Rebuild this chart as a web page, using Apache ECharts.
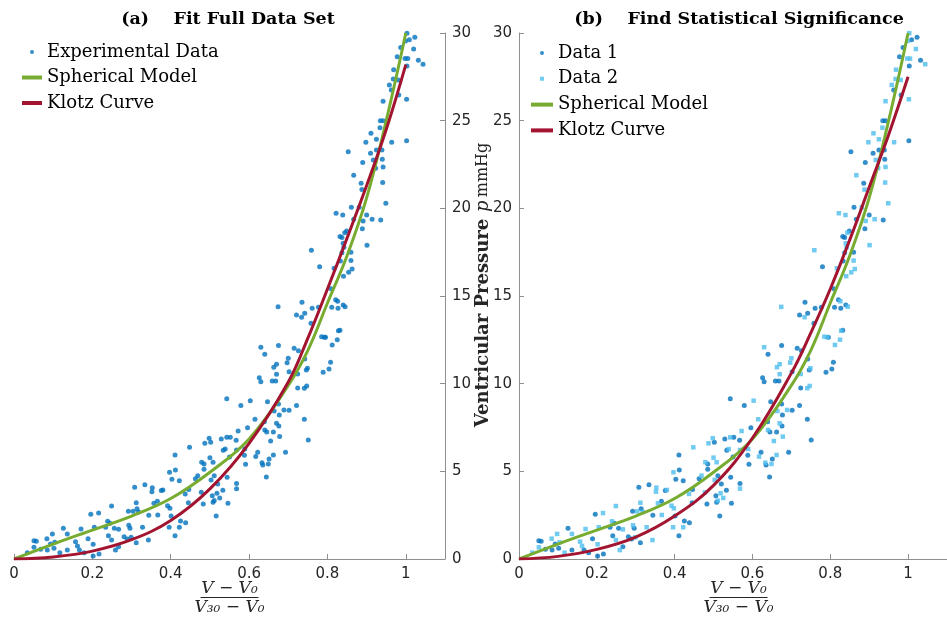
<!DOCTYPE html>
<html><head><meta charset="utf-8">
<script src="https://cdn.jsdelivr.net/npm/echarts@6/dist/echarts.min.js"></script>
<style>html,body{margin:0;padding:0;background:#fff}#c{width:947px;height:624px}</style>
</head><body><div id="c"></div>
<script>
// ---- tick labels ----
const xTicks = [0, 0.2, 0.4, 0.6, 0.8, 1];
const yTicks = [0, 5, 10, 15, 20, 25, 30];

// ---- experimental points: normalized volume, pressure, group (1 = Data 1, 2 = Data 2) ----
const ptX = [
0.411,0.397,0.412,0.403,0.422,0.334,0.308,0.353,0.352,0.376,0.380,0.312,0.357,0.366,0.249,0.292,0.304,0.314,0.318,0.344,
0.367,0.392,0.398,0.401,0.396,0.425,0.422,0.411,0.196,0.216,0.205,0.171,0.126,0.136,0.098,0.084,0.051,0.057,0.051,0.093,
0.104,0.085,0.102,0.117,0.136,0.157,0.162,0.167,0.179,0.189,0.202,0.202,0.217,0.234,0.239,0.245,0.241,0.249,0.256,0.267,
0.281,0.289,0.299,0.293,0.296,0.312,0.328,0.343,0.267,0.259,0.034,0.068,
0.630,0.675,0.640,0.715,0.726,0.700,0.697,0.670,0.663,0.742,0.749,0.746,0.702,0.670,0.626,0.630,0.659,0.668,0.724,0.724,
0.741,0.747,0.543,0.579,0.603,0.647,0.675,0.689,0.702,0.721,0.664,0.677,0.615,0.639,0.670,0.676,0.741,0.596,0.572,0.640,
0.662,0.645,0.655,0.678,0.751,0.529,0.543,0.552,0.567,0.539,0.534,0.498,0.487,0.502,0.448,0.500,0.479,0.485,0.463,0.469,
0.485,0.508,0.511,0.503,0.544,0.520,0.550,0.568,0.588,0.589,0.591,0.617,0.622,0.633,0.635,0.649,0.651,0.644,0.662,0.693,
0.568,0.568,0.533,0.518,0.506,0.525,0.511,0.508,0.546,0.483,0.478,0.446,0.516,0.437,0.445,0.438,
0.861,0.822,0.839,0.881,0.900,0.891,0.914,0.936,0.949,0.867,0.889,0.849,0.844,0.832,0.837,0.840,0.842,0.901,0.759,0.837,
0.860,0.833,0.860,0.780,0.817,0.863,0.854,0.841,0.809,0.821,0.826,0.735,0.674,0.761,0.777,0.811,0.827,0.840,0.845,0.721,
0.734,0.742,0.758,0.785,0.792,0.795,0.828,0.832,0.825,0.812,0.808,0.804,0.789,
1.003,1.023,1.009,0.999,1.020,0.987,0.978,0.998,1.005,1.003,1.032,1.044,0.969,0.968,0.981,0.958,0.963,0.982,1.002,0.942,
0.935,0.942,0.934,0.911,0.925,0.898,0.964,1.002,0.853,0.925,0.910,0.939,0.890,0.917,0.940,0.923,0.942,0.867,0.886,0.941,
0.888
];
const ptY = [
5.93,4.95,5.08,4.55,4.47,4.24,4.09,4.07,3.84,3.90,3.94,3.21,3.18,3.29,3.02,2.72,2.72,2.87,2.68,2.49,
2.51,3.04,2.89,2.45,1.81,2.17,1.81,1.33,2.55,2.62,1.81,1.71,1.75,1.43,1.43,1.16,1.04,1.01,0.67,0.86,
0.95,0.51,0.61,0.36,0.51,0.99,0.74,0.51,0.36,1.16,0.84,0.17,0.29,1.81,2.15,2.04,1.33,1.08,1.75,1.69,
1.27,1.14,1.24,1.92,1.75,0.93,1.81,1.08,0.70,0.51,0.36,0.55,
12.08,12.17,11.68,12.02,11.88,11.45,11.20,11.11,10.94,11.41,10.88,10.78,10.68,10.54,10.34,10.11,10.15,10.15,10.55,9.75,
9.74,9.87,9.14,8.75,9.03,8.97,8.84,8.50,8.48,8.75,8.44,8.21,7.97,7.83,7.74,7.59,7.97,7.49,7.30,7.36,
7.24,7.24,6.73,6.98,6.79,6.85,6.94,6.94,6.77,6.27,6.20,6.89,6.60,6.66,6.37,5.78,5.52,5.42,4.58,4.75,
5.12,5.52,4.75,4.51,4.66,4.28,5.82,6.22,5.92,6.27,5.40,5.84,6.09,5.49,5.36,5.42,5.70,4.68,5.93,6.09,
4.30,4.01,3.92,3.75,3.61,3.48,3.33,3.23,3.18,3.14,3.80,3.97,2.45,3.71,3.21,2.07,
20.06,19.72,19.62,20.06,19.62,19.28,19.38,19.34,20.29,19.38,18.84,18.71,18.61,18.39,18.33,18.01,17.78,17.90,17.61,17.47,
17.50,17.00,17.02,16.67,16.58,16.54,16.35,16.13,15.42,14.79,14.70,14.64,14.38,14.30,14.36,14.36,14.30,14.49,14.39,13.92,
13.79,14.02,13.45,12.68,12.65,12.65,13.02,13.05,12.51,12.21,11.22,10.84,10.65,
29.99,29.76,29.61,29.55,29.09,29.17,28.65,28.54,28.54,28.12,28.45,28.22,27.91,27.38,27.32,27.04,26.75,26.47,26.22,26.11,
25.00,25.00,24.60,24.28,23.94,23.77,23.77,23.86,23.23,23.33,23.14,23.33,22.61,22.76,22.80,22.29,22.36,21.89,21.43,21.47,
21.07
];
const ptGroup = [
1,2,1,1,1,1,1,2,2,1,2,2,2,1,2,1,2,1,2,1,
2,2,2,1,2,1,2,1,1,2,2,2,1,2,2,2,1,1,2,1,
2,1,1,2,1,2,2,1,1,1,2,1,1,1,2,1,1,2,1,2,
1,1,2,2,1,1,2,2,1,2,2,1,
2,1,1,1,1,2,2,2,2,1,2,1,1,2,1,1,1,1,2,1,
2,2,1,1,2,1,1,2,1,1,2,1,2,1,2,1,1,1,2,2,
1,1,2,2,1,1,2,1,1,2,1,2,2,1,2,2,2,1,1,2,
1,2,1,2,1,1,1,2,1,2,1,2,1,2,1,2,1,1,2,1,
1,2,1,2,1,2,2,1,1,1,2,1,1,2,1,1,
1,2,2,2,1,2,2,1,2,1,1,1,2,1,1,2,2,2,2,1,
1,1,2,1,2,2,2,2,1,1,2,1,2,1,1,1,1,1,2,1,
2,1,1,2,2,1,2,1,2,2,1,1,1,
2,1,1,2,2,1,1,2,2,1,1,2,2,2,2,2,1,1,2,2,
1,1,2,2,2,2,2,1,1,1,1,1,1,2,1,2,2,2,1,2,
2
];

// ---- fitted curves ----
const curveX      = [0, 0.1, 0.2, 0.3, 0.4, 0.5, 0.6, 0.7, 0.75, 0.8, 0.85, 0.9, 0.95, 1.0];
const sphericalP  = [0, 0.85, 1.65, 2.45, 3.45, 4.95, 6.85, 9.9, 11.9, 14.6, 17.3, 20.6, 25.0, 30.0];
const klotzLeftP  = [0, 0.12, 0.45, 1.1, 2.2, 4.0, 6.6, 10.1, 12.6, 15.4, 18.3, 21.3, 24.5, 28.2];
const klotzRightP = [0, 0.15, 0.55, 1.25, 2.45, 4.2, 6.9, 10.6, 12.9, 15.4, 18.2, 21.2, 24.2, 27.5];

const C_D1 = '#0072BD', C_D2 = '#4DBEEE', C_SPH = '#77AC30', C_KL = '#A2142F';
const AX = '#8f8f8f', TXT = '#262626';
const pair = (xs, ys) => xs.map((x, i) => [x, ys[i]]);
const allPts = pair(ptX, ptY);
const d1 = allPts.filter((p, i) => ptGroup[i] === 1);
const d2 = allPts.filter((p, i) => ptGroup[i] === 2);

function xAxis(idx) {
  return {
    type: 'value', gridIndex: idx, min: 0, max: 1.1,
    axisLine: { show: true, lineStyle: { color: AX, width: 1 } },
    axisTick: { show: true, inside: true, length: 5, lineStyle: { color: AX }, customValues: xTicks },
    axisLabel: { show: true, color: TXT, fontFamily: 'DejaVu Sans', fontSize: 15, margin: 8, customValues: xTicks,
                 formatter: v => String(v) },
    splitLine: { show: false }
  };
}
function yAxis(idx, pos) {
  return {
    type: 'value', gridIndex: idx, min: yTicks[0], max: yTicks[yTicks.length - 1], interval: 5, position: pos,
    axisLine: { show: true, onZero: false, lineStyle: { color: AX, width: 1 } },
    axisTick: { show: true, inside: true, length: 5, lineStyle: { color: AX } },
    axisLabel: { show: true, color: TXT, fontFamily: 'DejaVu Sans', fontSize: 15, margin: 7, hideOverlap: false },
    splitLine: { show: false }
  };
}
const serifTitle = { fontFamily: 'DejaVu Serif', fontWeight: 'bold', fontSize: 17.5, color: '#000' };
const fracFont = 'italic 17px "DejaVu Serif"';
function fraction(cx) {
  return [
    { type: 'text', x: cx, y: 589, style: { text: 'V − V₀', font: fracFont, fill: TXT, align: 'center', verticalAlign: 'middle' } },
    { type: 'line', shape: { x1: cx - 29, y1: 597.5, x2: cx + 29, y2: 597.5 }, style: { stroke: TXT, lineWidth: 1 } },
    { type: 'text', x: cx, y: 608, style: { text: 'V₃₀ − V₀', font: fracFont, fill: TXT, align: 'center', verticalAlign: 'middle' } }
  ];
}
const legText = { fontFamily: 'DejaVu Serif', fontSize: 18, color: '#000', lineHeight: 20 };
const squareIcon = 'path://M0,0L0.01,0M9,0h4v4h-4zM22,4L21.99,4';

const option = {
  animation: false,
  backgroundColor: '#fff',
  title: [
    { text: '(a)    Fit Full Data Set', left: 223, top: 5, textAlign: 'center', textStyle: serifTitle },
    { text: '(b)    Find Statistical Significance', left: 734, top: 5, textAlign: 'center', textStyle: serifTitle }
  ],
  grid: [
    { left: 14, top: 33, width: 431, height: 526 },
    { left: 519, top: 33, width: 439, height: 526 }
  ],
  xAxis: [xAxis(0), xAxis(1)],
  yAxis: [yAxis(0, 'right'), yAxis(1, 'left')],
  legend: [
    { orient: 'vertical', left: 22, top: 42, padding: 0, itemWidth: 20, itemHeight: 4, itemGap: 5.5, textStyle: legText,
      data: [{ name: 'Experimental Data', icon: 'circle' }, { name: 'Spherical Model', icon: 'rect' }, { name: 'Klotz Curve', icon: 'rect' }],
      selectedMode: false },
    { orient: 'vertical', left: 531, top: 43, padding: 0, itemWidth: 22, itemHeight: 4, itemGap: 5.8, textStyle: legText,
      data: [{ name: 'Data 1', icon: 'circle' }, { name: 'Data 2', icon: squareIcon }, { name: 'Spherical Model', icon: 'rect' }, { name: 'Klotz Curve', icon: 'rect' }],
      selectedMode: false }
  ],
  graphic: [
    ...fraction(229.5), ...fraction(738.5),
    { type: 'text', x: 483, y: 285, rotation: Math.PI / 2,
      style: { text: '{b|Ventricular Pressure}  {i|p} {r|mmHg}', align: 'center', verticalAlign: 'middle', fill: TXT,
        rich: { b: { font: 'bold 18px "DejaVu Serif"', fill: TXT }, i: { font: 'italic 18px "DejaVu Serif"', fill: TXT }, r: { font: '16px "DejaVu Serif"', fill: TXT } } } }
  ],
  series: [
    { name: 'Experimental Data', type: 'scatter', xAxisIndex: 0, yAxisIndex: 0, data: allPts, symbol: 'circle', symbolSize: 5,
      itemStyle: { color: C_D1 } },
    { name: 'Spherical Model', type: 'line', xAxisIndex: 0, yAxisIndex: 0, data: pair(curveX, sphericalP), smooth: 0.4, symbol: 'none',
      lineStyle: { color: C_SPH, width: 3 }, itemStyle: { color: C_SPH } },
    { name: 'Klotz Curve', type: 'line', xAxisIndex: 0, yAxisIndex: 0, data: pair(curveX, klotzLeftP), smooth: 0.4, symbol: 'none',
      lineStyle: { color: C_KL, width: 3 }, itemStyle: { color: C_KL } },
    { name: 'Data 1', type: 'scatter', xAxisIndex: 1, yAxisIndex: 1, data: d1, symbol: 'circle', symbolSize: 5,
      itemStyle: { color: C_D1 } },
    { name: 'Data 2', type: 'scatter', xAxisIndex: 1, yAxisIndex: 1, data: d2, symbol: 'rect', symbolSize: 4.5,
      itemStyle: { color: C_D2 } },
    { name: 'Spherical Model', type: 'line', xAxisIndex: 1, yAxisIndex: 1, data: pair(curveX, sphericalP), smooth: 0.4, symbol: 'none',
      lineStyle: { color: C_SPH, width: 3 }, itemStyle: { color: C_SPH } },
    { name: 'Klotz Curve', type: 'line', xAxisIndex: 1, yAxisIndex: 1, data: pair(curveX, klotzRightP), smooth: 0.4, symbol: 'none',
      lineStyle: { color: C_KL, width: 3 }, itemStyle: { color: C_KL } }
  ]
};
const chart = echarts.init(document.getElementById('c'), null, { renderer: 'canvas' });
chart.setOption(option);
</script></body></html>
